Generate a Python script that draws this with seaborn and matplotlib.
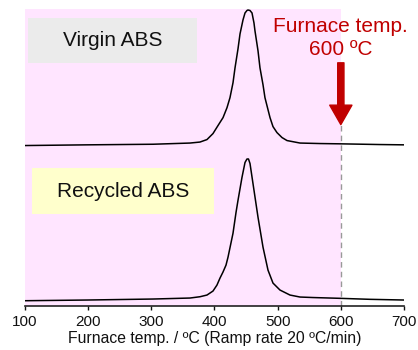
import matplotlib
matplotlib.use("Agg")
import matplotlib.pyplot as plt
from matplotlib.patches import Rectangle
import seaborn as sns
import pandas as pd

# signals (arbitrary units, virgin trace is offset upward)
virgin_temp = [100, 198.2, 302.6, 361.2, 377.0, 388.1, 397.6, 405.5, 413.5, 419.8,
               424.5, 429.3, 432.5, 437.2, 440.4, 445.1, 448.3, 451.4, 453.0, 456.2,
               459.4, 462.5, 464.1, 468.9, 472.0, 476.8, 479.9, 484.7, 487.9, 492.6,
               498.9, 506.9, 514.8, 535.4, 567.0, 600.3, 662.0, 700]
virgin_sig = [161, 161.7, 162.3, 163.5, 164.5, 167, 173, 181, 189, 199,
              209, 224, 239, 258, 273, 287, 294, 296.5, 297, 296.5,
              294, 284, 276, 256, 239, 222, 209, 197, 189, 180,
              174, 169, 166, 163.5, 163, 162.7, 162, 161.7]

recycled_temp = [100, 198.2, 302.6, 361.2, 377.0, 388.1, 397.6, 403.9, 408.7, 413.4,
                 418.2, 421.4, 429.3, 434.1, 437.2, 443.5, 448.3, 451.4, 453.8, 456.2,
                 460.9, 468.9, 476.8, 484.7, 492.6, 503.7, 519.5, 535.4, 555.9, 598.7,
                 646.2, 700]
recycled_sig = [5.3, 6, 7, 8, 9.3, 11, 15, 21, 28, 34,
                41, 49, 73, 94, 106, 129, 144, 147.5, 147.5, 143,
                123, 89, 59, 36, 23, 16, 11, 9, 8.5, 7.7,
                6.7, 6]

ticks = [100, 200, 300, 400, 500, 600, 700]
furnace_temp = 600

sns.set_theme(style="white")
plt.rcParams['font.family'] = ['Liberation Sans', 'DejaVu Sans']

fig = plt.figure(figsize=(4.18, 3.5), dpi=100)
ax = fig.add_axes([0.0598, 0.1257, 0.9067, 0.8486])

red = '#C00000'
ax.axvspan(100, furnace_temp, color='#FFE5FF', lw=0, zorder=0)

df_v = pd.DataFrame({'temp': virgin_temp, 'sig': virgin_sig})
df_r = pd.DataFrame({'temp': recycled_temp, 'sig': recycled_sig})
sns.lineplot(data=df_v, x='temp', y='sig', color='black', lw=1.1, ax=ax, zorder=3)
sns.lineplot(data=df_r, x='temp', y='sig', color='black', lw=1.1, ax=ax, zorder=3)

ax.set_xlim(100, 700)
ax.set_ylim(0, 298)
ax.set_xticks(ticks)
ax.set_yticks([])
ax.set_ylabel('')
ax.set_xlabel('Furnace temp. / ºC (Ramp rate 20 ºC/min)', fontsize=11.3, labelpad=1.5, color='#111111')
ax.tick_params(axis='x', direction='out', length=3, width=1, pad=3.5, labelsize=11,
               bottom=True, colors='#111111')
for s in ['top', 'left', 'right']:
    ax.spines[s].set_visible(False)
ax.spines['bottom'].set_color('#222222')
ax.spines['bottom'].set_linewidth(1.2)
ax.patch.set_alpha(0)

# dashed marker + arrow at furnace temperature
ax.plot([furnace_temp, furnace_temp], [0, 182], color='#999999', lw=1, ls=(0, (4, 3)), zorder=2)
ax.annotate('', xy=(furnace_temp, 182), xytext=(furnace_temp, 244),
            arrowprops=dict(width=4.5, headwidth=16, headlength=14, color=red, shrink=0))
ax.text(furnace_temp, 269, 'Furnace temp.\n600 ºC', ha='center', va='center',
        fontsize=15, color=red, linespacing=1.3)

# label boxes
ax.add_patch(Rectangle((0.008, 0.818), 0.446, 0.152, transform=ax.transAxes,
                       color='#EBEBEB', lw=0, zorder=1))
ax.text(0.231, 0.894, 'Virgin ABS', transform=ax.transAxes, ha='center', va='center',
        fontsize=15, color='#111111', zorder=4)
ax.add_patch(Rectangle((0.0185, 0.31), 0.48, 0.155, transform=ax.transAxes,
                       color='#FFFFCC', lw=0, zorder=1))
ax.text(0.2586, 0.387, 'Recycled ABS', transform=ax.transAxes, ha='center', va='center',
        fontsize=15, color='#111111', zorder=4)

fig.savefig('out.png', dpi=100)
